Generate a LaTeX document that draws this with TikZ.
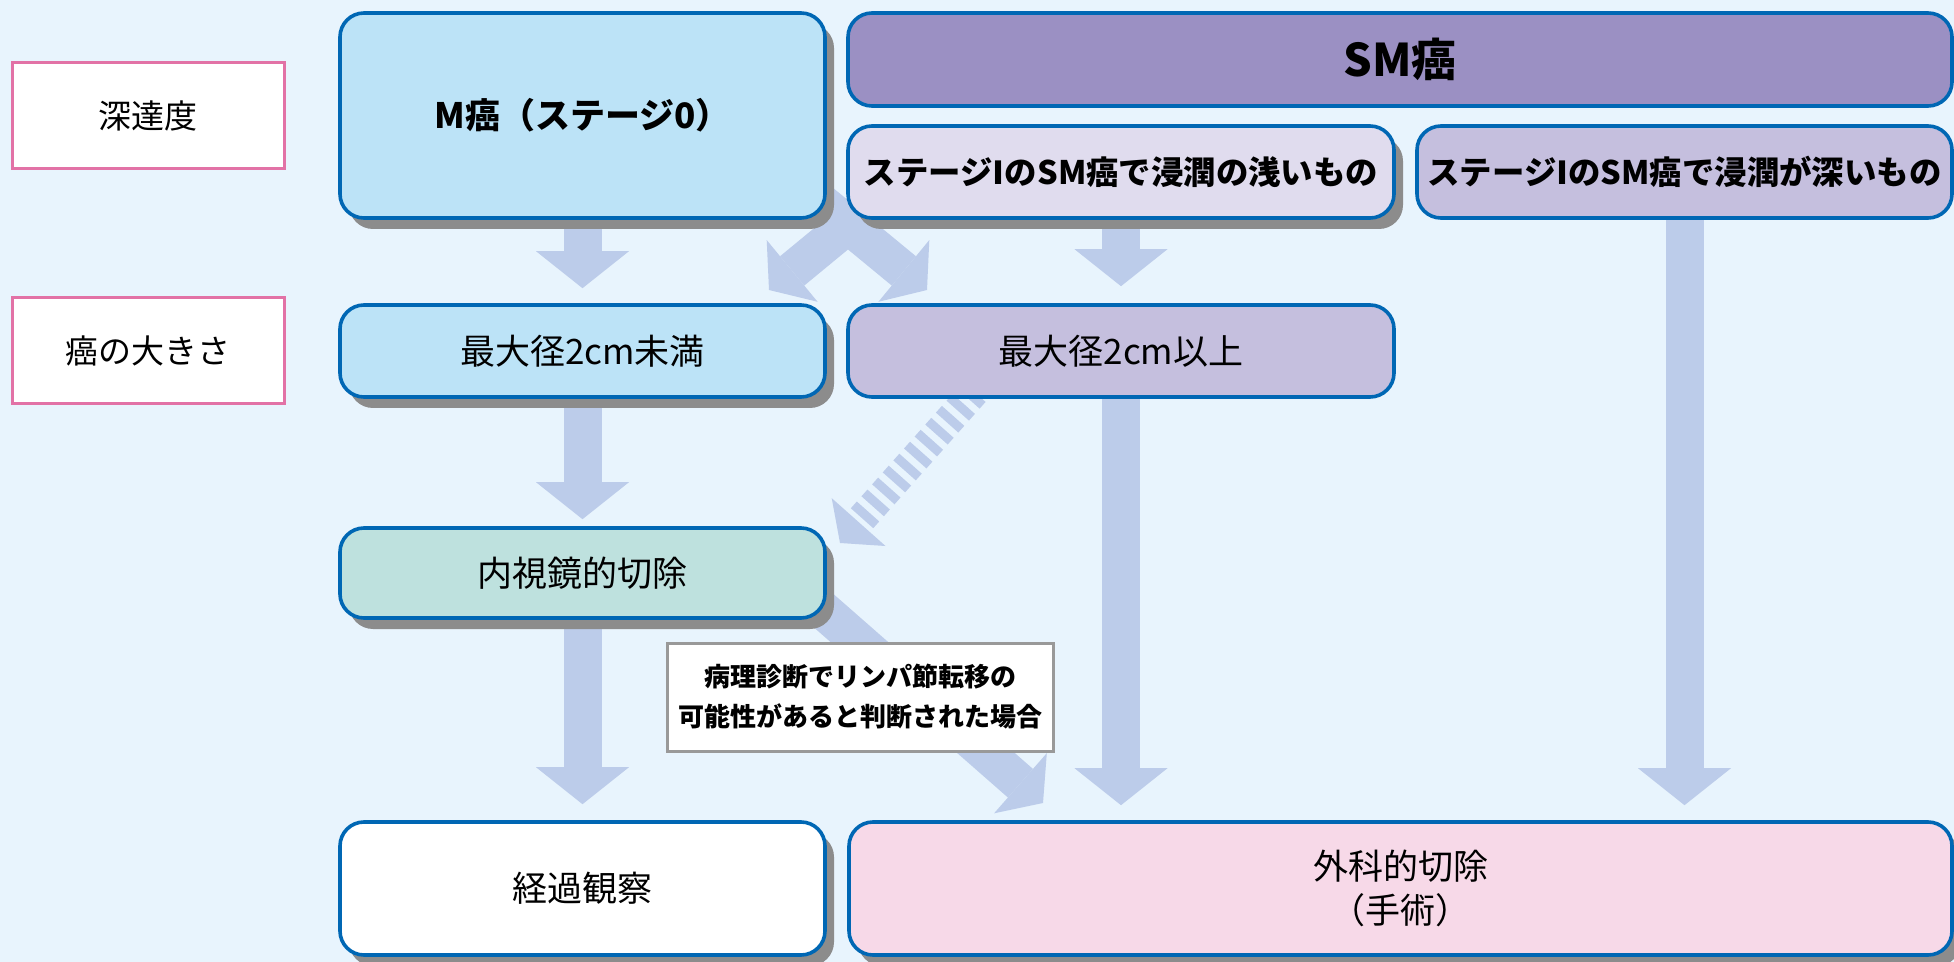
\documentclass[tikz,border=0pt]{standalone}
\usepackage{fontspec}
\setmainfont{Noto Sans CJK JP}
\newfontfamily\numeralfont{DejaVu Sans}
\usepackage{tikz}
\usetikzlibrary{arrows.meta}
\usetikzlibrary{shadows}
\definecolor{bgblue}{RGB}{232,244,253}
\definecolor{edgeblue}{RGB}{0,103,180}
\definecolor{skyfill}{RGB}{188,227,247}
\definecolor{smfill}{RGB}{155,144,195}
\definecolor{shallowfill}{RGB}{224,220,238}
\definecolor{deepfill}{RGB}{197,191,222}
\definecolor{endofill}{RGB}{190,225,222}
\definecolor{surgfill}{RGB}{247,217,232}
\definecolor{shadowgray}{RGB}{140,140,140}
\definecolor{flow}{RGB}{188,204,234}
\definecolor{labelpink}{RGB}{226,114,166}
\definecolor{notegray}{RGB}{153,153,153}
\newcommand{\stageone}{{\numeralfont\bfseries Ⅰ}}
\pgfdeclarelayer{back}
\pgfdeclarelayer{flows}
\pgfsetlayers{back,flows,main}

\begin{document}
\begin{tikzpicture}[x=0.5pt,y=-0.5pt,
  stage/.style={draw=edgeblue,line width=1.8pt,rounded corners=12pt,align=center,inner sep=0pt},
  boxshadow/.style={drop shadow={shadow xshift=4.5pt,shadow yshift=-5.5pt,fill=shadowgray,opacity=1}},
  rowlabel/.style={draw=labelpink,line width=1.5pt,fill=white,minimum width=136pt,minimum height=53pt,font=\fontsize{16.5}{20}\selectfont},
  plainfont/.style={font=\fontsize{17.5}{22}\selectfont},
  boldfont/.style={font=\fontsize{17.5}{22}\selectfont\bfseries},
  flowarrow/.style={color=flow,line width=19pt,-{Triangle[length=18.5pt 0 0,width=46.5pt 0 0,line width=0pt 0 0,fill=flow]}},
  slantarrow/.style={color=flow,line width=19pt,-{Triangle[length=15pt 0 0,width=40pt 0 0,line width=0pt 0 0,fill=flow]}}]
\useasboundingbox (0,0) rectangle (1954,962);
\begin{pgfonlayer}{back}
  \fill[bgblue] (0,0) rectangle (1954,962);
\end{pgfonlayer}

\node[rowlabel] (depthlbl) at (148,116) {深達度};
\node[rowlabel] (sizelbl) at (148,351) {癌の大きさ};

\node[stage,boxshadow,fill=skyfill,boldfont,minimum width=242.5pt,minimum height=102.5pt] (mca) at (582.5,115.5) {M癌（ステージ0）};
\node[stage,fill=smfill,font=\fontsize{22.5}{26}\selectfont\bfseries,minimum width=552pt,minimum height=46.5pt] (smca) at (1400,59.5) {SM癌};
\node[stage,boxshadow,fill=shallowfill,font=\fontsize{16.2}{20}\selectfont\bfseries,minimum width=273pt,minimum height=46pt] (shallow) at (1121,172) {ステージ\stageone のSM癌で浸潤の浅いもの};
\node[stage,fill=deepfill,font=\fontsize{16.2}{20}\selectfont\bfseries,minimum width=267.5pt,minimum height=46pt] (deep) at (1684.5,172) {ステージ\stageone のSM癌で浸潤が深いもの};
\node[stage,boxshadow,fill=skyfill,plainfont,minimum width=242.5pt,minimum height=46pt] (small) at (582.5,351) {最大径2cm未満};
\node[stage,fill=deepfill,plainfont,minimum width=273pt,minimum height=46pt] (large) at (1121,351) {最大径2cm以上};
\node[stage,boxshadow,fill=endofill,plainfont,minimum width=242.5pt,minimum height=45pt] (endo) at (582.5,573) {内視鏡的切除};
\node[stage,boxshadow,fill=white,plainfont,minimum width=242.5pt,minimum height=66.5pt] (watch) at (582.5,888.5) {経過観察};
\node[stage,boxshadow,fill=surgfill,plainfont,minimum width=551.5pt,minimum height=66.5pt] (surgery) at (1400.5,888.5) {外科的切除\\（手術）};
\node[draw=notegray,line width=1.5pt,fill=white,align=center,font=\fontsize{13}{20}\selectfont\bfseries,minimum width=193pt,minimum height=54pt] (note) at (860,697) {病理診断でリンパ節転移の\\可能性があると判断された場合};

\coordinate (mtail) at (796,182);
\coordinate (largetip) at (927,290);
\coordinate (shallowtail) at (900,182);
\coordinate (smalltip) at (769,290);
\coordinate (largetail) at (985,380);
\coordinate (endotip) at (840,543);
\coordinate (endotail) at (800,590);
\coordinate (surgtip) at (1043,803);

\begin{pgfonlayer}{flows}
  \path
    (mca.south) edge[flowarrow,shorten >=7.5pt] (small.north)
    (small.south) edge[flowarrow,shorten >=3.5pt] (endo.north)
    (endo.south) edge[flowarrow,shorten >=8pt] (watch.north)
    (shallow.south) edge[flowarrow,shorten >=8.5pt] (large.north)
    (large.south) edge[flowarrow,shorten >=7.5pt] (large.south |- surgery.north)
    (deep.south) edge[flowarrow,shorten >=7.5pt] (deep.south |- surgery.north)
    (mtail) edge[slantarrow] (largetip)
    (shallowtail) edge[slantarrow] (smalltip)
    (endotail) edge[slantarrow] (surgtip);
  \draw[color=flow,line width=15pt,dash pattern=on 4.5pt off 3.5pt,-{Triangle[length=14pt 0 0,width=36pt 0 0,line width=0pt 0 0,fill=flow]}] (largetail) -- (endotip);
\end{pgfonlayer}
\end{tikzpicture}
\end{document}
